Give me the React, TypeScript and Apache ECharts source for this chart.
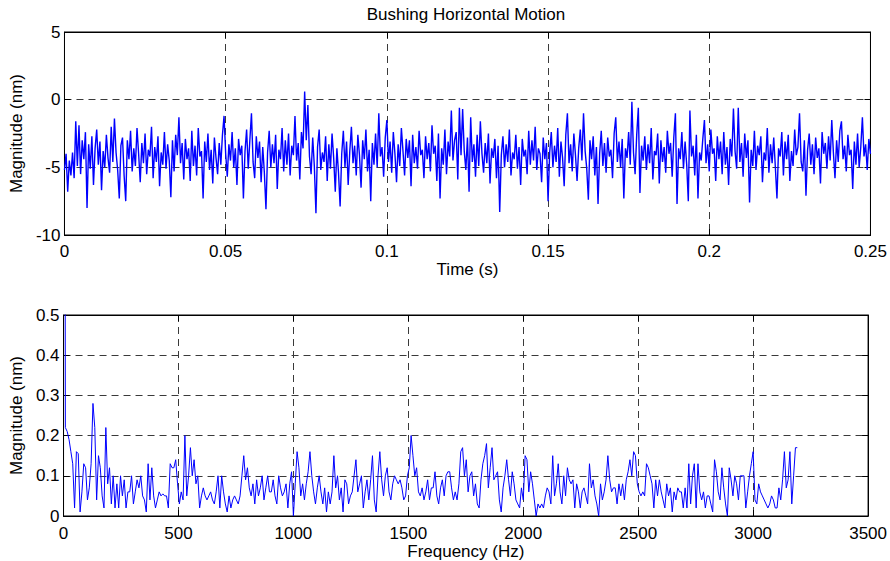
import React, { useEffect, useRef } from "react";
import * as echarts from "echarts";

// Time signal: sample step 0.0005 s, 0 .. 0.25 s (nm)
const timeStep = 0.0005;
const timeValues: number[] = [
  -5.2, -4.0, -6.8, -4.5, -5.6, -3.9, -5.8, -1.6, -4.9, -1.9, -5.5, -3.0, -4.4, -2.4, -8.0, -3.3, -5.1, -2.7, -6.3, -3.6,
  -2.2, -4.8, -3.1, -6.7, -3.8, -5.0, -2.6, -4.3, -5.4, -2.0, -4.6, -1.4, -3.9, -5.2, -7.3, -3.4, -2.8, -5.6, -7.5, -3.0,
  -4.4, -2.3, -5.3, -3.6, -4.9, -2.1, -4.0, -6.1, -3.2, -4.7, -2.5, -5.5, -3.7, -4.2, -2.0, -5.8, -3.5, -4.6, -2.7, -6.4,
  -3.9, -4.8, -2.4, -5.1, -3.3, -4.5, -7.2, -3.0, -5.3, -2.6, -4.1, -1.3, -4.7, -3.2, -5.9, -2.9, -4.4, -3.6, -6.0, -2.3,
  -4.9, -3.4, -5.6, -2.1, -4.2, -3.8, -7.3, -3.1, -4.6, -2.5, -5.2, -3.7, -6.2, -2.8, -4.3, -5.5, -3.2, -4.8, -2.6, -1.2,
  -4.0, -5.7, -3.3, -4.5, -2.4, -5.0, -3.6, -6.3, -2.9, -4.1, -3.4, -7.3, -3.8, -2.2, -5.1, -3.0, -1.0, -4.6, -5.8, -2.7,
  -4.3, -3.1, -6.1, -3.5, -5.4, -8.1, -3.9, -2.3, -5.0, -3.3, -4.7, -2.6, -6.6, -3.7, -4.4, -2.1, -5.3, -3.0, -4.8, -2.5,
  -5.6, -3.4, -4.1, -1.2, -4.5, -3.2, -5.9, -2.4, -3.6, 0.6, -3.0, -0.4, -4.2, -5.5, -2.8, -4.9, -8.4, -3.5, -2.2, -5.2,
  -3.9, -4.6, -2.7, -6.0, -3.3, -5.1, -2.5, -4.3, -6.8, -3.6, -5.4, -7.9, -4.0, -2.3, -5.0, -3.1, -6.3, -3.8, -2.0, -4.7,
  -3.4, -5.6, -2.6, -4.1, -6.5, -3.0, -4.4, -2.2, -5.3, -3.7, -7.5, -3.2, -4.8, -2.5, -5.0, -1.0, -4.2, -3.5, -5.7, -2.8,
  -1.5, -4.6, -3.1, -5.4, -2.4, -4.0, -6.1, -3.3, -4.9, -2.1, -3.8, -5.6, -2.9, -4.3, -3.0, -6.4, -2.6, -4.7, -3.5, -5.1,
  -2.3, -4.1, -3.7, -5.8, -2.7, -4.4, -3.2, -5.3, -1.9, -4.0, -3.4, -6.0, -2.5, -7.3, -3.6, -4.8, -2.2, -5.5, -3.1, -4.2,
  -0.8, -4.5, -3.0, -2.4, -5.9, -0.6, -4.1, -0.7, -3.8, -5.2, -2.8, -6.8, -1.3, -4.6, -3.3, -5.7, -2.6, -4.9, -1.6, -4.0,
  -5.4, -3.2, -4.7, -2.5, -6.2, -3.6, -4.3, -2.9, -5.8, -3.4, -8.3, -4.1, -2.7, -5.0, -3.3, -4.6, -2.2, -5.6, -3.9, -4.4,
  -2.6, -5.1, -3.5, -6.3, -2.9, -4.2, -3.7, -5.5, -2.3, -4.8, -3.0, -4.5, -2.0, -5.2, -3.6, -4.0, -6.1, -2.8, -4.4, -3.2,
  -7.5, -3.9, -2.4, -5.0, -3.4, -4.6, -2.1, -5.7, -3.1, -4.3, -6.4, -2.6, -1.0, -4.7, -3.3, -5.3, -2.5, -4.1, -6.0, -3.6,
  -2.2, -4.5, -1.0, -3.8, -5.1, -7.4, -3.0, -4.4, -2.7, -5.6, -3.5, -7.7, -4.0, -2.3, -4.9, -3.2, -5.4, -2.8, -4.2, -3.7,
  -5.8, -2.5, -1.3, -4.6, -3.1, -5.0, -2.9, -7.3, -3.6, -4.3, -2.4, -4.8, -0.15, -3.9, -5.5, -2.6, -0.6, -6.9, -3.4, -4.5,
  -2.7, -5.2, -3.3, -4.7, -2.1, -5.9, -3.8, -4.1, -2.5, -6.2, -3.0, -4.6, -3.5, -5.4, -2.3, -4.0, -3.2, -5.7, -2.8, -1.0,
  -7.7, -3.6, -4.4, -2.4, -5.1, -3.1, -4.8, -7.5, -0.8, -4.2, -3.4, -5.6, -2.6, -7.3, -3.9, -4.5, -2.9, -1.5, -4.7, -3.3,
  -5.3, -2.2, -4.0, -3.6, -6.0, -2.7, -4.4, -3.1, -5.5, -2.4, -4.8, -3.5, -6.3, -2.9, -4.2, -0.65, -3.8, -5.1, -0.6, -4.6,
  -3.2, -5.7, -2.5, -4.3, -3.0, -7.6, -3.7, -4.9, -2.3, -5.2, -3.4, -4.1, -2.7, -6.1, -3.9, -4.5, -2.1, -5.4, -3.3, -4.7,
  -2.8, -5.0, -7.3, -3.6, -4.2, -2.4, -5.6, -3.1, -4.4, -2.6, -6.0, -3.8, -4.9, -2.2, -4.1, -3.5, -1.0, -4.6, -5.3, -3.0,
  -7.1, -3.7, -2.5, -4.8, -3.3, -5.5, -2.8, -4.3, -3.6, -6.2, -2.4, -4.0, -3.2, -5.1, -2.7, -4.5, -1.5, -3.9, -5.8, -3.0,
  -4.6, -2.3, -1.6, -4.4, -3.4, -5.3, -2.6, -4.1, -3.7, -6.6, -3.1, -4.8, -2.5, -5.0, -3.5, -1.3, -4.2, -3.3, -5.2, -2.9,
  -4.0,
];

// Spectrum: bin step 8 Hz, 0 .. 3192 Hz (nm)
const freqStep = 8;
const magValues: number[] = [
  4.0, 0.22, 0.21, 0.19, 0.16, 0.13, 0.02, 0.16, 0.155, 0.01, 0.06, 0.13, 0.12, 0.04, 0.07, 0.13, 0.28, 0.22, 0.04, 0.15,
  0.12, 0.05, 0.02, 0.22, 0.08, 0.12, 0.03, 0.1, 0.02, 0.08, 0.02, 0.1, 0.05, 0.09, 0.02, 0.06, 0.06, 0.1, 0.03, 0.06,
  0.09, 0.07, 0.1, 0.05, 0.04, 0.01, 0.13, 0.04, 0.12, 0.05, 0.02, 0.04, 0.06, 0.05, 0.055, 0.05, 0.05, 0.02, 0.13, 0.12,
  0.12, 0.14, 0.08, 0.03, 0.06, 0.04, 0.2, 0.05, 0.1, 0.17, 0.1, 0.14, 0.08, 0.1, 0.02, 0.05, 0.07, 0.05, 0.04, 0.05,
  0.06, 0.04, 0.03, 0.06, 0.1, 0.02, 0.1, 0.06, 0.03, 0.01, 0.05, 0.02, 0.04, 0.05, 0.04, 0.03, 0.05, 0.1, 0.15, 0.09,
  0.12, 0.07, 0.05, 0.08, 0.03, 0.09, 0.05, 0.07, 0.1, 0.04, 0.07, 0.1, 0.06, 0.06, 0.09, 0.05, 0.03, 0.1, 0.07, 0.05,
  0.06, 0.08, 0.02, 0.08, 0.11, 0.0, 0.08, 0.16, 0.12, 0.05, 0.08, 0.04, 0.08, 0.11, 0.16, 0.1, 0.06, 0.03, 0.07, 0.1,
  0.06, 0.03, 0.07, 0.01, 0.06, 0.03, 0.06, 0.15, 0.07, 0.1, 0.04, 0.07, 0.01, 0.09, 0.08, 0.03, 0.05, 0.06, 0.1, 0.14,
  0.06, 0.08, 0.1, 0.02, 0.06, 0.09, 0.04, 0.09, 0.15, 0.04, 0.01, 0.1, 0.16, 0.09, 0.05, 0.1, 0.12, 0.06, 0.04, 0.08,
  0.1, 0.09, 0.08, 0.09, 0.07, 0.04, 0.05, 0.1, 0.12, 0.2, 0.15, 0.1, 0.12, 0.06, 0.05, 0.07, 0.04, 0.06, 0.09, 0.04,
  0.07, 0.07, 0.11, 0.05, 0.03, 0.07, 0.09, 0.05, 0.1, 0.11, 0.11, 0.07, 0.04, 0.06, 0.04, 0.08, 0.16, 0.17, 0.1, 0.14,
  0.06, 0.1, 0.11, 0.05, 0.08, 0.03, 0.02, 0.09, 0.13, 0.15, 0.18, 0.07, 0.12, 0.17, 0.09, 0.1, 0.11, 0.04, 0.01, 0.07,
  0.1, 0.14, 0.09, 0.05, 0.11, 0.08, 0.04, 0.03, 0.02, 0.07, 0.04, 0.15, 0.14, 0.06, 0.11, 0.08, 0.04, 0.0, 0.03, 0.02,
  0.03, 0.02, 0.05, 0.07, 0.06, 0.03, 0.15, 0.05, 0.08, 0.13, 0.06, 0.03, 0.1, 0.05, 0.12, 0.09, 0.08, 0.09, 0.02, 0.08,
  0.06, 0.02, 0.06, 0.07, 0.05, 0.03, 0.13, 0.07, 0.09, 0.05, 0.03, 0.0, 0.08, 0.04, 0.06, 0.09, 0.15, 0.09, 0.06, 0.07,
  0.07, 0.03, 0.08, 0.05, 0.08, 0.04, 0.09, 0.11, 0.14, 0.1, 0.16, 0.15, 0.08, 0.06, 0.05, 0.06, 0.05, 0.13, 0.12, 0.1,
  0.08, 0.02, 0.09, 0.05, 0.09, 0.06, 0.04, 0.02, 0.08, 0.05, 0.07, 0.01, 0.06, 0.04, 0.07, 0.06, 0.06, 0.02, 0.07, 0.02,
  0.13, 0.03, 0.1, 0.13, 0.02, 0.13, 0.06, 0.04, 0.06, 0.02, 0.05, 0.05, 0.03, 0.01, 0.14, 0.11, 0.06, 0.04, 0.12, 0.07,
  0.03, 0.0, 0.12, 0.09, 0.05, 0.1, 0.08, 0.04, 0.1, 0.1, 0.1, 0.02, 0.06, 0.1, 0.13, 0.16, 0.04, 0.03, 0.08, 0.06,
  0.05, 0.04, 0.03, 0.02, 0.03, 0.05, 0.04, 0.02, 0.02, 0.07, 0.04, 0.09, 0.16, 0.07, 0.09, 0.16, 0.03, 0.1, 0.17, 0.17,
];

const titleText = "Bushing Horizontal Motion";
const timeAxisName = "Time (s)";
const freqAxisName = "Frequency (Hz)";
const magAxisName = "Magnitude (nm)";

const FONT = "'Liberation Sans', Arial, Helvetica, sans-serif";
const FS = 17;

export default function App() {
  const ref = useRef<HTMLDivElement>(null);

  useEffect(() => {
    if (!ref.current) return;
    const chart = echarts.init(ref.current, undefined, { renderer: "svg" });

    const gridLine = { show: true, lineStyle: { color: "#3a3a3a", width: 1, type: [7, 5] as any } };
    const tick = { show: true, inside: true, length: 6, lineStyle: { color: "#000", width: 1 } };
    const axLine = { show: true, onZero: false, lineStyle: { color: "#000", width: 1 } };
    const label = { color: "#000", fontFamily: FONT, fontSize: FS };
    const nameStyle = { color: "#000", fontFamily: FONT, fontSize: FS };

    const timeData = timeValues.map((v, i) => [i * timeStep, v]);
    const magData = magValues.map((v, i) => [i * freqStep, v]);

    const fmtT = (v: number) => String(Math.round(v * 1000) / 1000);
    const fmtM = (v: number) => String(Math.round(v * 100) / 100);
    const fmtF = (v: number) => String(Math.round(v));

    chart.setOption({
      animation: false,
      backgroundColor: "#fff",
      textStyle: { fontFamily: FONT },
      grid: [
        { left: 62, top: 32, width: 809, height: 203, show: true, borderColor: "#000", borderWidth: 1, backgroundColor: "transparent" },
        { left: 62, top: 315, width: 809, height: 202, show: true, borderColor: "#000", borderWidth: 1, backgroundColor: "transparent" },
      ],
      graphic: [
        {
          type: "text",
          x: 466,
          y: 14,
          style: { text: titleText, fill: "#000", font: `${FS}px ${FONT}`, textAlign: "center", textVerticalAlign: "middle" },
        },
      ],
      xAxis: [
        {
          gridIndex: 0, type: "value", min: 0, max: 0.25, interval: 0.05, position: "bottom",
          axisLine: axLine, axisTick: tick, splitLine: gridLine,
          axisLabel: { ...label, margin: 8, formatter: fmtT },
          name: timeAxisName, nameLocation: "middle", nameGap: 26, nameTextStyle: nameStyle,
        },
        {
          gridIndex: 0, type: "value", min: 0, max: 0.25, interval: 0.05, position: "top",
          axisLine: axLine, axisTick: tick, splitLine: { show: false }, axisLabel: { show: false },
        },
        {
          gridIndex: 1, type: "value", min: 0, max: 3500, interval: 500, position: "bottom",
          axisLine: axLine, axisTick: tick, splitLine: gridLine,
          axisLabel: { ...label, margin: 9, formatter: fmtF },
          name: freqAxisName, nameLocation: "middle", nameGap: 27, nameTextStyle: nameStyle,
        },
        {
          gridIndex: 1, type: "value", min: 0, max: 3500, interval: 500, position: "top",
          axisLine: axLine, axisTick: tick, splitLine: { show: false }, axisLabel: { show: false },
        },
      ],
      yAxis: [
        {
          gridIndex: 0, type: "value", min: -10, max: 5, interval: 5, position: "left",
          axisLine: axLine, axisTick: tick, splitLine: gridLine,
          axisLabel: { ...label, margin: 4 },
          name: magAxisName, nameLocation: "middle", nameGap: 33, nameRotate: 90, nameTextStyle: nameStyle,
        },
        {
          gridIndex: 0, type: "value", min: -10, max: 5, interval: 5, position: "right",
          axisLine: axLine, axisTick: tick, splitLine: { show: false }, axisLabel: { show: false },
        },
        {
          gridIndex: 1, type: "value", min: 0, max: 0.5, interval: 0.1, position: "left",
          axisLine: axLine, axisTick: tick, splitLine: gridLine,
          axisLabel: { ...label, margin: 4, formatter: fmtM },
          name: magAxisName, nameLocation: "middle", nameGap: 33, nameRotate: 90, nameTextStyle: nameStyle,
        },
        {
          gridIndex: 1, type: "value", min: 0, max: 0.5, interval: 0.1, position: "right",
          axisLine: axLine, axisTick: tick, splitLine: { show: false }, axisLabel: { show: false },
        },
      ],
      series: [
        {
          type: "line", xAxisIndex: 0, yAxisIndex: 0, data: timeData, showSymbol: false, clip: true,
          lineStyle: { color: "#0000ff", width: 1.4 }, itemStyle: { color: "#0000ff" }, silent: true,
        },
        {
          type: "line", xAxisIndex: 2, yAxisIndex: 2, data: magData, showSymbol: false, clip: true,
          lineStyle: { color: "#0000ff", width: 1 }, itemStyle: { color: "#0000ff" }, silent: true,
        },
      ],
    });

    return () => chart.dispose();
  }, []);

  return (
    <div
      ref={ref}
      style={{ position: "fixed", left: 0, top: 0, width: 890, height: 561, background: "#fff" }}
    />
  );
}
